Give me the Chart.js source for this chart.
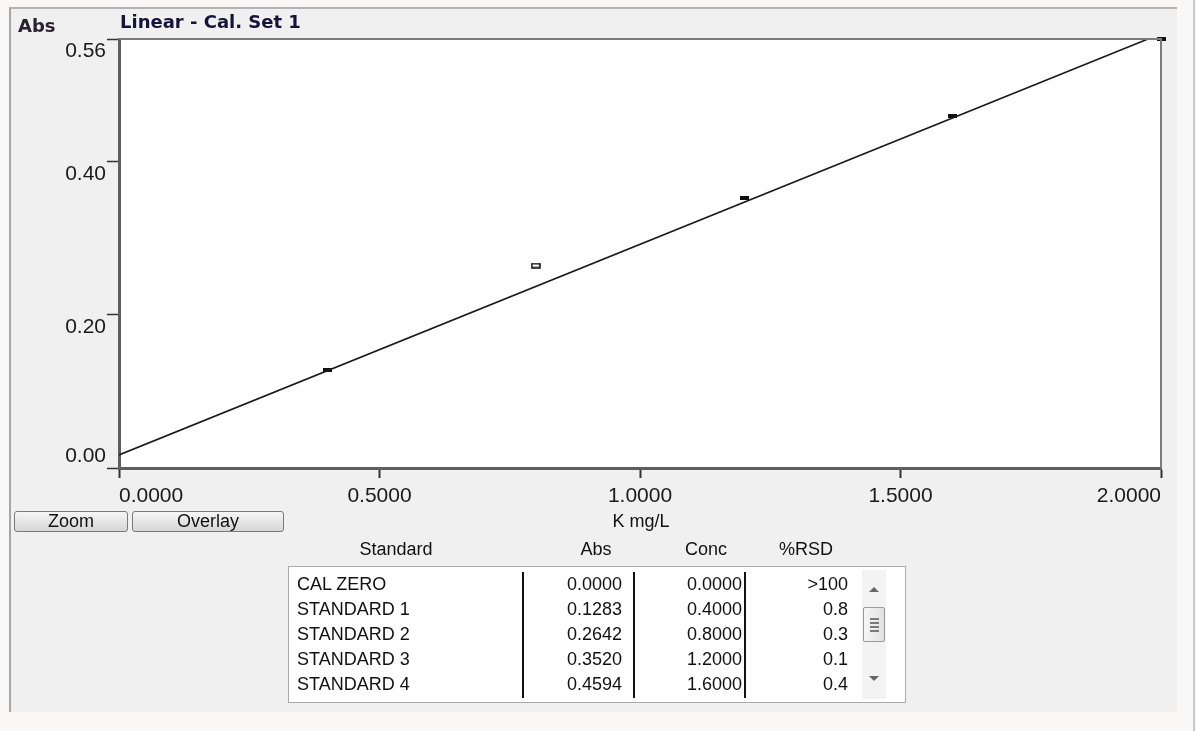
<!DOCTYPE html>
<html>
<head>
<meta charset="utf-8">
<script src="https://cdn.jsdelivr.net/npm/chart.js@4.4.1/dist/chart.umd.min.js"></script>
<style>
  html, body { margin: 0; padding: 0; }
  body { width: 1196px; height: 731px; background: #f9f8f6; position: relative; overflow: hidden;
         font-family: "Liberation Sans", Arial, sans-serif; color: #111; }
  #panel { position: absolute; left: 9px; top: 7px; width: 1168px; height: 705px; background: #f0f0f0;
           border-left: 2px solid #a6a6a6; border-top: 2px solid #b4b4b4; box-sizing: border-box; }
  #rightEdge { position: absolute; left: 1193px; top: 0; width: 2px; height: 731px; background: #c8c8c8; }
  #chartBox { position: absolute; left: 0; top: 0; width: 1196px; height: 540px; }
  .lbl { position: absolute; white-space: nowrap; }
  #yTitle { left: 18px; top: 15px; font: bold 18px "DejaVu Sans", sans-serif; color: #2a2030; }
  #title { left: 120px; top: 11px; font: bold 18px "DejaVu Sans", sans-serif; color: #14143a; }
  #xTitle { left: 0; width: 1282px; top: 511px; text-align: center; font-size: 18px; }
  .btn { position: absolute; top: 511px; height: 21px; box-sizing: border-box; border: 1px solid #7a7a7a;
         border-radius: 3px; background: linear-gradient(#f6f6f6, #e4e4e4 55%, #d6d6d6);
         font-size: 18px; line-height: 19px; text-align: center; overflow: hidden; }
  .hdr { position: absolute; top: 539px; font-size: 18px; text-align: center; width: 120px; }
  #list { position: absolute; left: 288px; top: 566px; width: 618px; height: 137px; background: #fff;
          border: 1px solid #a9a9a9; box-sizing: border-box; }
  .cell { position: absolute; font-size: 18px; line-height: 25px; height: 25px; white-space: nowrap; }
  .sep { position: absolute; top: 5px; width: 2px; height: 126px; background: #111; }
  #sb { position: absolute; left: 573px; top: 3px; width: 24px; height: 129px; background: #f3f3f3; }
  #thumb { position: absolute; left: 1px; top: 37px; width: 22px; height: 35px; box-sizing: border-box;
           border: 1px solid #9a9a9a; border-radius: 2px; background: linear-gradient(90deg, #f7f7f7, #e0e0e0); }
  .grip { position: absolute; left: 6px; width: 9px; height: 2px; background: #7a7a7a; }
  .arrow { position: absolute; left: 7px; width: 0; height: 0; border-left: 5px solid transparent; border-right: 5px solid transparent; }
</style>
</head>
<body>
<div id="panel"></div>
<div id="rightEdge"></div>
<div id="chartBox"><canvas id="cal"></canvas></div>
<div class="lbl" id="yTitle">Abs</div>
<div class="lbl" id="title">Linear - Cal. Set 1</div>
<div class="lbl" id="xTitle">K mg/L</div>
<div class="btn" style="left:14px;width:114px;">Zoom</div>
<div class="btn" style="left:132px;width:152px;">Overlay</div>
<div id="hdrs"></div>
<div id="list"></div>

<script>
// Calibration standards (table rows)
const standardNames = ["CAL ZERO", "STANDARD 1", "STANDARD 2", "STANDARD 3", "STANDARD 4"];
const standardAbs   = [0.0000, 0.1283, 0.2642, 0.3520, 0.4594];
const standardConc  = [0.0000, 0.4000, 0.8000, 1.2000, 1.6000];
const standardRsd   = [">100", "0.8", "0.3", "0.1", "0.4"];

// Plotted calibration points (the top-right one sits at the plot corner)
const pointConc = [0.4, 0.8, 1.2, 1.6, 2.0];
const pointAbs  = [0.1283, 0.2642, 0.3520, 0.4594, 0.5600];
const pointHollow = [false, true, false, false, false];

// Fitted calibration line end points
const fitConc = [0.0, 1.975];
const fitAbs  = [0.017, 0.560];

// Axis ticks
const xTicks = [0, 0.5, 1.0, 1.5, 2.0];
const yTicks = [0, 0.20, 0.40, 0.56];

// ---- table ----
const headers = [["Standard", 396], ["Abs", 596], ["Conc", 706], ["%RSD", 806]];
const hdrs = document.getElementById('hdrs');
headers.forEach(([t, cx]) => {
  const d = document.createElement('div');
  d.className = 'hdr'; d.textContent = t; d.style.left = (cx - 60) + 'px';
  hdrs.appendChild(d);
});
const list = document.getElementById('list');
function cell(text, x, row, align) {
  const d = document.createElement('div');
  d.className = 'cell'; d.textContent = text;
  d.style.top = (5 + row * 25) + 'px';
  if (align === 'right') { d.style.right = (618 - x) + 'px'; } else { d.style.left = x + 'px'; }
  list.appendChild(d);
}
standardNames.forEach((n, i) => {
  cell(n, 8, i, 'left');
  cell(standardAbs[i].toFixed(4), 335, i, 'right');
  cell(standardConc[i].toFixed(4), 455, i, 'right');
  cell(standardRsd[i], 561, i, 'right');
});
[233, 344, 455].forEach(x => {
  const s = document.createElement('div'); s.className = 'sep'; s.style.left = x + 'px'; list.appendChild(s);
});
const sb = document.createElement('div'); sb.id = 'sb';
sb.innerHTML = '<div class="arrow" style="top:17px;border-bottom:5px solid #666;"></div>' +
  '<div id="thumb"><div class="grip" style="top:10px"></div><div class="grip" style="top:14px"></div>' +
  '<div class="grip" style="top:18px"></div><div class="grip" style="top:22px"></div></div>' +
  '<div class="arrow" style="top:106px;border-top:5px solid #666;"></div>';
list.appendChild(sb);

// ---- point markers ----
function marker(hollow) {
  const c = document.createElement('canvas');
  const g = c.getContext('2d');
  if (hollow) {
    c.width = 10; c.height = 6;
    g.strokeStyle = '#111'; g.lineWidth = 1.6; g.strokeRect(1, 1, 8, 4);
  } else {
    c.width = 9; c.height = 4;
    g.fillStyle = '#111'; g.fillRect(0, 0, 9, 4);
  }
  return c;
}
const markers = pointHollow.map(marker);

// ---- chart ----
const plotFrame = {
  id: 'plotFrame',
  beforeDraw(chart) {
    const a = chart.chartArea, g = chart.ctx;
    g.save();
    g.fillStyle = '#ffffff';
    g.fillRect(a.left, a.top, a.right - a.left, a.bottom - a.top);
    g.restore();
  },
  afterDraw(chart) {
    const a = chart.chartArea, g = chart.ctx;
    g.save();
    g.strokeStyle = '#7c7c7c'; g.lineWidth = 2;
    g.beginPath();
    g.moveTo(a.left, a.top); g.lineTo(a.right, a.top); g.lineTo(a.right, a.bottom);
    g.stroke();
    // value labels of the Abs axis: below their tick, except the bottom one which sits above it
    const ys = chart.scales.y;
    g.fillStyle = '#1a1a1a';
    g.font = '21px "Liberation Sans"';
    g.textAlign = 'right';
    yTicks.forEach(v => {
      const py = ys.getPixelForValue(v);
      if (v === 0) { g.textBaseline = 'bottom'; g.fillText(v.toFixed(2), a.left - 13, py - 1); }
      else { g.textBaseline = 'top'; g.fillText(v.toFixed(2), a.left - 13, py + 2); }
    });
    g.restore();
  }
};

new Chart(document.getElementById('cal'), {
  data: {
    datasets: [
      {
        type: 'line',
        data: fitConc.map((x, i) => ({ x, y: fitAbs[i] })),
        borderColor: '#1a1a1a', borderWidth: 1.6, pointRadius: 0, tension: 0, fill: false
      },
      {
        type: 'scatter',
        data: pointConc.map((x, i) => ({ x, y: pointAbs[i] })),
        pointStyle: markers, pointRadius: 4, clip: false
      }
    ]
  },
  options: {
    responsive: true, maintainAspectRatio: false, animation: false,
    layout: { padding: { left: 0, top: 39, right: 35, bottom: 0 } },
    plugins: { legend: { display: false }, tooltip: { enabled: false } },
    scales: {
      x: {
        type: 'linear', min: 0, max: 2.0,
        afterBuildTicks: s => { s.ticks = xTicks.map(v => ({ value: v })); },
        afterFit: s => { s.height = 72; },
        border: { display: true, color: '#5e5e5e', width: 3 },
        grid: { drawOnChartArea: false, drawTicks: true, tickLength: 10, color: '#333', tickWidth: 2 },
        ticks: {
          align: 'inner', padding: 6, maxRotation: 0, color: '#1a1a1a',
          font: { family: 'Liberation Sans', size: 21 },
          callback: v => Number(v).toFixed(4)
        }
      },
      y: {
        type: 'linear', min: 0, max: 0.56,
        afterBuildTicks: s => { s.ticks = yTicks.map(v => ({ value: v })); },
        afterFit: s => { s.width = 119; },
        border: { display: true, color: '#5e5e5e', width: 3 },
        grid: { drawOnChartArea: false, drawTicks: true, tickLength: 12, color: '#333', tickWidth: 1.5 },
        ticks: { display: false }
      }
    }
  },
  plugins: [plotFrame]
});
</script>
</body>
</html>
